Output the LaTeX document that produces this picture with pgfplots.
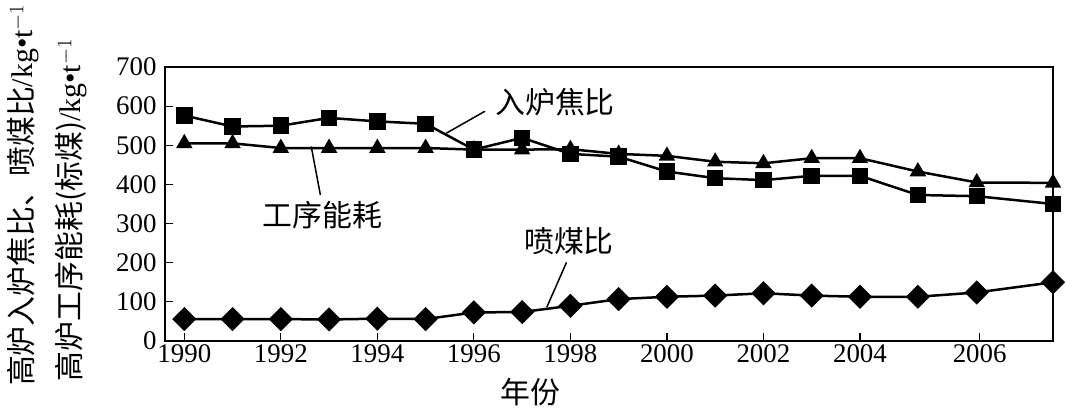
\documentclass[border=0pt]{standalone}
\usepackage{pgfplots}
\pgfplotsset{compat=1.18}
\usepackage{fontspec}
\setmainfont{Liberation Serif}
\newfontfamily\cjk{Noto Sans CJK SC}

\pgfplotstableread{
x      coke  energy  coal
1990   576   505     56
1991   548   505     56
1992   550   493     56
1993   570   493     55
1994   561   493     57
1995   555   493     56
1996   489   489     73
1997   519   489     74
1998   478   490     90
1999   471   478     107
2000   433   473     113
2001   416   458     116
2002   411   454     122
2003   422   467     116
2004   422   467     113
2005.2 373   433     113
2006.42 370  405     124
2008   350   404     150
}\data

\begin{document}
\begin{tikzpicture}[x=1bp,y=1bp]
\path (-165,-73) rectangle (901,341);
\begin{axis}[at={(0,0)}, anchor=south west, scale only axis,
  width=888bp, height=274bp,
  xmin=1989.6, xmax=2008, ymin=0, ymax=700,
  clip=false,
  axis line style={line width=1.6bp},
  tick align=inside, tick pos=left,
  major tick length=8bp,
  tick style={line width=1.2bp, black},
  xtick={1990,1992,1994,1996,1998,2000,2002,2004,2006.48},
  xticklabels={1990,1992,1994,1996,1998,2000,2002,2004,2006},
  ytick={0,100,...,700},
  /pgf/number format/assume math mode=true,
  ticklabel style={font=\fontsize{27}{27}\selectfont},
  yticklabel style={xshift=-5bp},
  every axis plot/.append style={line width=2.5bp, black},
]
\addplot[mark=square*, mark size=7bp] table[x=x, y=coke] {\data};
\addplot[mark=triangle*, mark size=7bp] table[x=x, y=energy] {\data};
\addplot[mark=square*, mark size=7.3bp, mark options={rotate=45}] table[x=x, y=coal] {\data};

\draw[line width=1.5bp] (axis cs:1995.43,531) -- (axis cs:1996.23,587);
\node[anchor=west, inner sep=0pt, font=\cjk\fontsize{30}{30}\selectfont] at (axis cs:1996.44,609) {入炉焦比};
\draw[line width=1.5bp] (axis cs:1992.63,497) -- (axis cs:1992.82,373);
\node[inner sep=0pt, font=\cjk\fontsize{30}{30}\selectfont] at (axis cs:1992.86,321) {工序能耗};
\draw[line width=1.5bp] (axis cs:1997.92,201) -- (axis cs:1997.51,86);
\node[inner sep=0pt, font=\cjk\fontsize{30}{30}\selectfont] at (axis cs:1997.97,255) {喷煤比};
\end{axis}
\node[inner sep=0pt, font=\cjk\fontsize{30}{30}\selectfont] at (365,-51) {年份};
\node[rotate=90, inner sep=0pt, font=\fontsize{30}{30}\selectfont] at (-142,146) {{\cjk 高炉入炉焦比、喷煤比}/kg•t$^{-1}$};
\node[rotate=90, inner sep=0pt, font=\fontsize{30}{30}\selectfont] at (-94,131) {{\cjk 高炉工序能耗(标煤)}/kg•t$^{-1}$};
\end{tikzpicture}
\end{document}
